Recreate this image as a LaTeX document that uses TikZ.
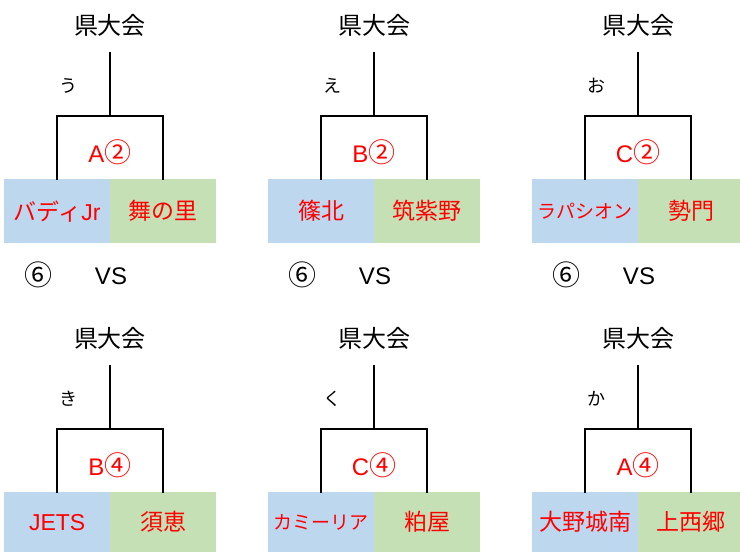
\documentclass[tikz,border=0pt]{standalone}
\usepackage{fontspec}
\setmainfont{Liberation Sans}
\newfontfamily\jp{Noto Sans CJK JP}
\definecolor{boxblue}{HTML}{BDD7EE}
\definecolor{boxgreen}{HTML}{C5E0B4}
\definecolor{txtred}{HTML}{FF0000}
\newcommand\fs[1]{\fontsize{#1}{#1}\selectfont}
\newcommand\circnum[1]{{\jp\fs{27}#1}}
\newcommand\bunit[9]{%
  \begin{scope}[shift={(#2,#3)}]
    \node[titletext] (#1t) at (110,25) {県大会};
    \coordinate (#1top) at (110,53);
    \coordinate (#1j) at (110,116);
    \node[kanatext] (#1k) at (68,86) {#4};
    \node[teambox, fill=boxblue, minimum height=#9] (#1l) at (4,179) {#8#6};
    \node[teambox, fill=boxgreen, minimum height=#9] (#1r) at (110,179) {#7};
    \node[matchtext] (#1m) at (110,152) {#5};
    \draw[bline] (#1top) -- (#1j);
    \draw[bline] (#1l.north) |- (#1j) -| (#1r.north);
  \end{scope}}
\begin{document}
\begin{tikzpicture}[x=1pt,y=-1pt,
  titletext/.style={font=\jp\fs{24}, inner sep=0},
  kanatext/.style={font=\jp\fs{18}, inner sep=0},
  matchtext/.style={font=\fs{24}, text=txtred, inner sep=0},
  teambox/.style={anchor=north west, minimum width=106pt, inner sep=0, font=\jp\fs{23}, text=txtred},
  bline/.style={line width=1.8pt, line cap=rect},
  vstext/.style={font=\fs{24}, inner sep=0},
  numtext/.style={font=\jp\fs{28}, inner sep=0}]
\useasboundingbox[fill=white] (0,0) rectangle (740,553);
\bunit{a}{0}{0}{う}{A\circnum{②}}{バディ{\fontspec{Liberation Sans}Jr}}{舞の里}{}{64pt}
\bunit{b}{264}{0}{え}{B\circnum{②}}{篠北}{筑紫野}{}{64pt}
\bunit{c}{528}{0}{お}{C\circnum{②}}{ラパシオン}{勢門}{\fs{19}}{64pt}
\bunit{d}{0}{313}{き}{B\circnum{④}}{{\fontspec{Liberation Sans}JETS}}{須恵}{}{60pt}
\bunit{e}{264}{313}{く}{C\circnum{④}}{カミーリア}{粕屋}{\fs{19}}{60pt}
\bunit{f}{528}{313}{か}{A\circnum{④}}{大野城南}{上西郷}{}{60pt}
\foreach \o/\n in {0/a,264/b,528/c}{
  \node[numtext] (n\n) at (38+\o,275) {⑥};
  \node[vstext] (v\n) at (111+\o,276) {VS};
}
\end{tikzpicture}
\end{document}
